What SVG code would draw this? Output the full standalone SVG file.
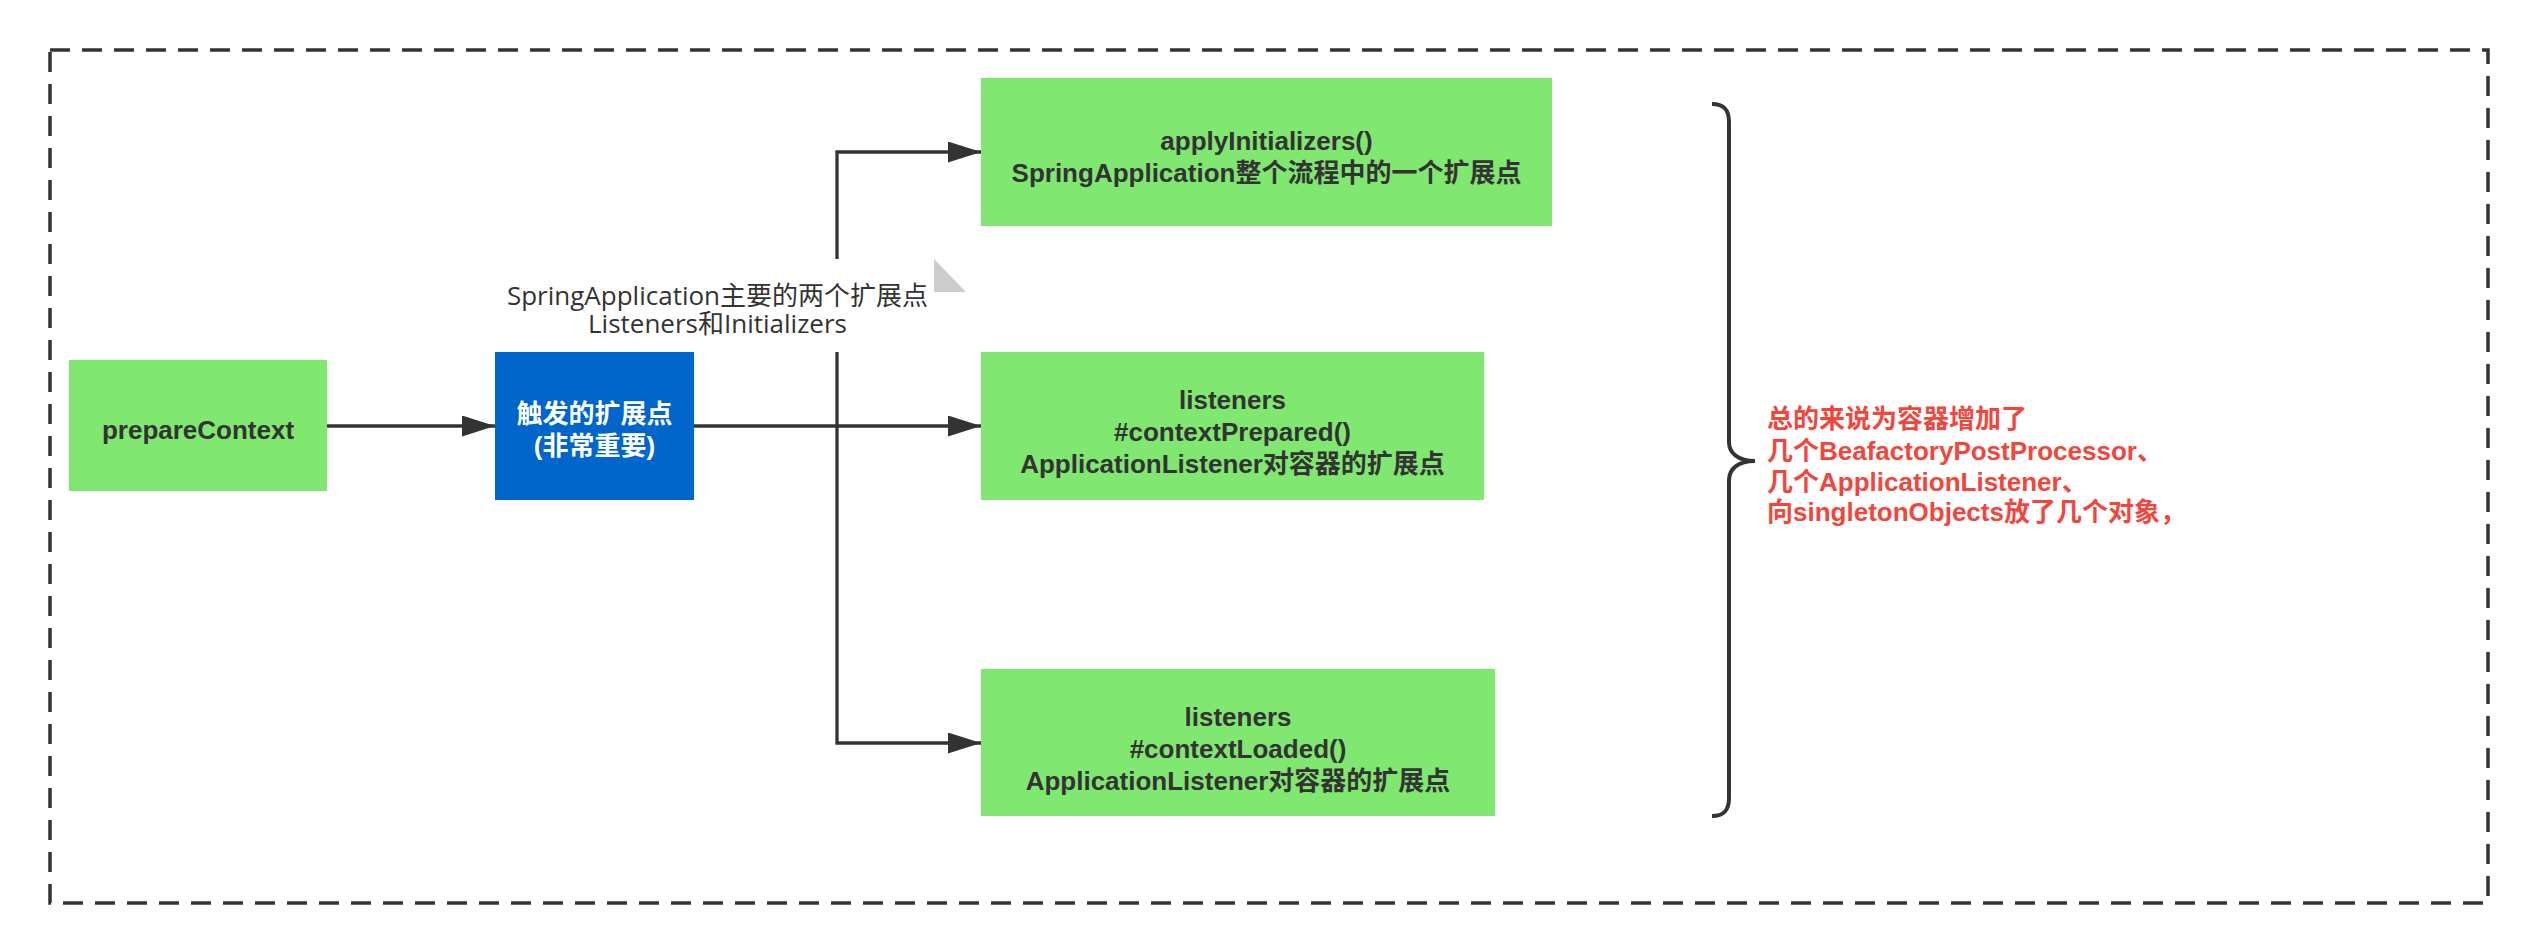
<svg xmlns="http://www.w3.org/2000/svg" width="2538" height="952" viewBox="0 0 2538 952">
  <defs>
    <style>
      .box { fill: #80e870; }
      .blue { fill: #0066cc; }
      .t { font-family: "Liberation Sans", "Noto Sans CJK SC", sans-serif; font-weight: bold; font-size: 26px; fill: #333333; text-anchor: middle; }
      .tw { fill: #ffffff; }
      .lbl { font-family: "Open Sans", "Noto Sans CJK SC", sans-serif; font-size: 26px; fill: #333333; text-anchor: middle; }
      .red { font-family: "Liberation Sans", "Noto Sans CJK SC", sans-serif; font-weight: bold; font-size: 26px; fill: #f2463c; }
      .edge { fill: none; stroke: #333333; stroke-width: 3.3; }
      .frame { fill: none; stroke: #333333; stroke-width: 3.5; stroke-dasharray: 20 12; }
      .brace { fill: none; stroke: #333333; stroke-width: 4; stroke-linecap: butt; }
    </style>
    <marker id="arrow" markerUnits="userSpaceOnUse" markerWidth="34" markerHeight="22" refX="33" refY="10.5" orient="auto">
      <path d="M0,0 L33,10.5 L0,21 Z" fill="#333333"/>
    </marker>
  </defs>

  <rect x="0" y="0" width="2538" height="952" fill="#ffffff"/>

  <g id="frame">
    <rect class="frame" x="50" y="50" width="2438" height="853"/>
  </g>

  <g id="connectors">
    <path class="edge" d="M327,426 H495" marker-end="url(#arrow)"/>
    <path class="edge" d="M694,426 H981" marker-end="url(#arrow)"/>
    <path class="edge" d="M837,259 V152 H981" marker-end="url(#arrow)"/>
    <path class="edge" d="M837,352 V743 H981" marker-end="url(#arrow)"/>
  </g>

  <g id="edge-label">
    <text class="lbl" x="717.5" y="305">SpringApplication主要的两个扩展点</text>
    <text class="lbl" x="717.5" y="333">Listeners和Initializers</text>
    <polygon points="934,259 966,292 934,292" fill="#cccccc"/>
  </g>

  <g id="node-prepareContext">
    <rect class="box" x="69" y="360" width="258" height="131"/>
    <text class="t" x="198" y="439">prepareContext</text>
  </g>

  <g id="node-trigger">
    <rect class="blue" x="495" y="352" width="199" height="148"/>
    <text class="t tw" x="594.5" y="423">触发的扩展点</text>
    <text class="t tw" x="594.5" y="455">(非常重要)</text>
  </g>

  <g id="node-applyInitializers">
    <rect class="box" x="981" y="78" width="571" height="148"/>
    <text class="t" x="1266.5" y="150">applyInitializers()</text>
    <text class="t" x="1266.5" y="182">SpringApplication整个流程中的一个扩展点</text>
  </g>

  <g id="node-contextPrepared">
    <rect class="box" x="981" y="352" width="503" height="148"/>
    <text class="t" x="1232.5" y="409">listeners</text>
    <text class="t" x="1232.5" y="441">#contextPrepared()</text>
    <text class="t" x="1232.5" y="472.5">ApplicationListener对容器的扩展点</text>
  </g>

  <g id="node-contextLoaded">
    <rect class="box" x="981" y="669" width="514" height="147"/>
    <text class="t" x="1238" y="726">listeners</text>
    <text class="t" x="1238" y="758">#contextLoaded()</text>
    <text class="t" x="1238" y="790">ApplicationListener对容器的扩展点</text>
  </g>

  <g id="brace">
    <path class="brace" d="M1712,104 C1724,104 1729,110 1729,122 V442 C1729,453 1738,461 1755,461 C1738,461 1729,469 1729,480 V798 C1729,810 1724,816 1712,816"/>
  </g>

  <g id="note-summary">
    <text class="red" x="1767" y="428">总的来说为容器增加了</text>
    <text class="red" x="1767" y="460">几个BeafactoryPostProcessor、</text>
    <text class="red" x="1767" y="491">几个ApplicationListener、</text>
    <text class="red" x="1767" y="521">向singletonObjects放了几个对象，</text>
  </g>
</svg>
